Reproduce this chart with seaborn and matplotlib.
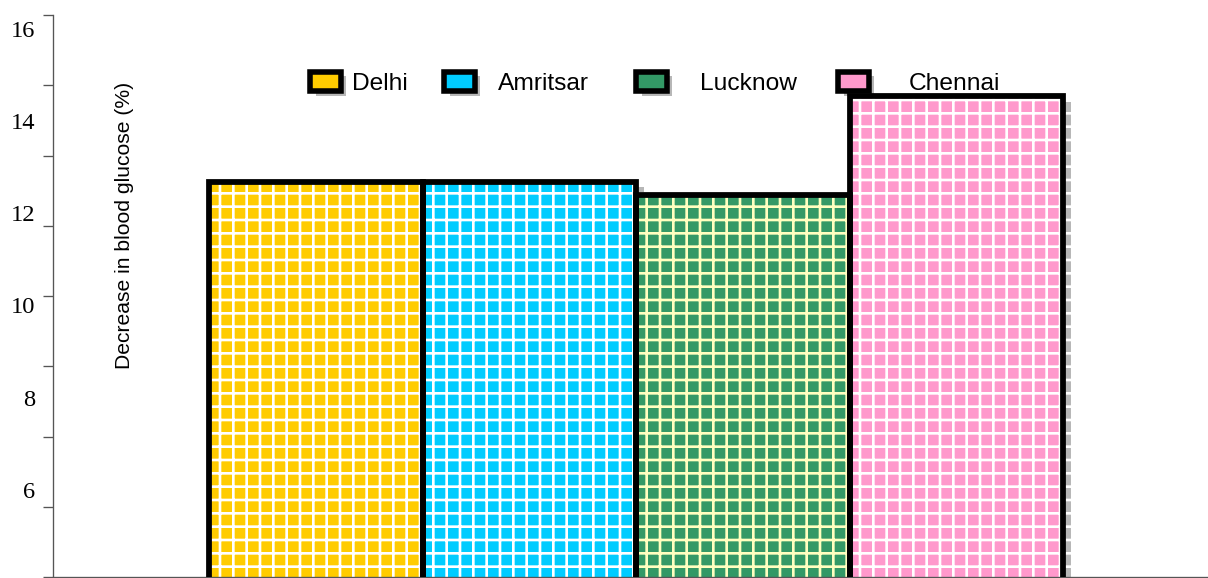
import numpy as np
import pandas as pd
import matplotlib
matplotlib.use("Agg")
import matplotlib.pyplot as plt
import matplotlib.patheffects as pe
from matplotlib.patches import Rectangle, Patch
import seaborn as sns

# date
cities = ["Delhi", "Amritsar", "Lucknow", "Chennai"]
decrease = [12.68, 12.68, 12.40, 14.54]
bar_colors = ["#FFCC00", "#00CCFF", "#339966", "#FF99CC"]
hatch_colors = ["#FFFFFF", "#FFFFFF", "#FFFFC0", "#FFFFFF"]
ytick_vals = [6, 8, 10, 12, 14, 16]

df = pd.DataFrame({"city": cities, "decrease": decrease})

sns.set_style("white")
plt.rcParams["hatch.linewidth"] = 2.4
plt.rcParams["text.color"] = "black"
plt.rcParams["axes.labelcolor"] = "black"
plt.rcParams["ytick.labelcolor"] = "black"

fig = plt.figure(figsize=(15.1, 7.225), dpi=80)
ax = fig.add_axes([53 / 1208, 1 / 578, 1155 / 1208, 562 / 578])

sns.barplot(data=df, x="city", y="decrease", hue="city", palette=bar_colors,
            width=1, legend=False, ax=ax, saturation=1)

shadow = [pe.SimplePatchShadow(offset=(7, -5), shadow_rgbFace="#888888", alpha=0.6), pe.Normal()]

# hasura + umbra + contur negru
for p, hc in zip(ax.patches, hatch_colors):
    p.set_hatch("+")
    p.set_edgecolor(hc)
    p.set_linewidth(0)
    p.set_path_effects(shadow)
    r = Rectangle((p.get_x(), p.get_y()), p.get_width(), p.get_height(),
                  fill=False, edgecolor="black", linewidth=5.2, zorder=3)
    ax.add_patch(r)

ax.set_xlim(-1.231, 4.179)
ax.set_ylim(4.11, 16.30)

# etichete y
ax.set_yticks(ytick_vals)
ax.set_yticklabels([str(v) for v in ytick_vals], fontfamily="Liberation Serif", fontsize=22,
                   color="black")
ax.tick_params(axis="y", which="major", length=0, pad=16)
ax.set_yticks(np.linspace(4.11, 16.30, 9), minor=True)
ax.tick_params(axis="y", which="minor", length=9, width=1.2, color="#555555", left=True)
ax.set_xticks([])
ax.set_xlabel("")

ax.set_ylabel("Decrease in blood glucose (%)", fontfamily="Liberation Sans", fontsize=19,
              color="black")
ax.yaxis.set_label_coords(0.070, 0.625)

for s in ["top", "right"]:
    ax.spines[s].set_visible(False)
for s in ["left", "bottom"]:
    ax.spines[s].set_color("#555555")
    ax.spines[s].set_linewidth(1.2)

# legenda: cate una pentru fiecare oras (spatiere neregulata ca in original)
leg_x = [0.2225, 0.3385, 0.5048, 0.6797]
leg_pad = [0.45, 0.95, 1.35, 1.65]
for city, c, lx, tp in zip(cities, bar_colors, leg_x, leg_pad):
    h = Patch(facecolor=c, edgecolor="black", linewidth=5,
              path_effects=[pe.SimplePatchShadow(offset=(5, -4), shadow_rgbFace="#888888", alpha=0.6),
                            pe.Normal()])
    leg = ax.legend([h], [city], frameon=False, loc="center left",
                    bbox_to_anchor=(lx, 0.878), borderpad=0, borderaxespad=0,
                    handlelength=1.25, handleheight=0.85, handletextpad=tp,
                    labelcolor="black",
                    prop={"family": "Liberation Sans", "size": 22})
    leg.set_zorder(2.5)
    ax.add_artist(leg)
ax.legend_ = None  # altfel ultima legenda se deseneaza de doua ori

fig.savefig("out.png", dpi=80)
